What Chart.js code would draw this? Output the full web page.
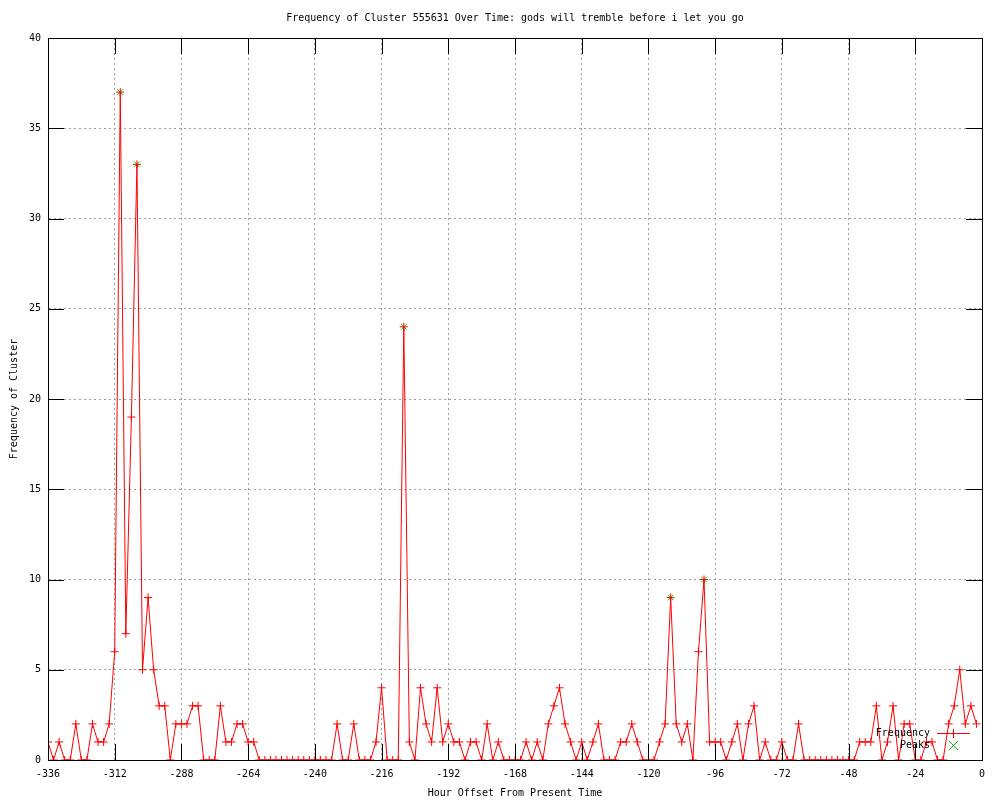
<!DOCTYPE html>
<html>
<head>
<meta charset="utf-8">
<title>Frequency of Cluster 555631</title>
<script src="https://cdn.jsdelivr.net/npm/chart.js@4/dist/chart.umd.min.js"></script>
<style>
  html, body { margin: 0; padding: 0; background: #fff; }
  canvas { display: block; }
</style>
</head>
<body>
<canvas id="clusterChart" width="1000" height="800"></canvas>
<script>
// ==================== DATA ====================
const chartTitle = 'Frequency of Cluster 555631 Over Time: gods will tremble before i let you go';
const xTitle = 'Hour Offset From Present Time';
const yTitle = 'Frequency of Cluster';

// one count every 2 hours, starting at -336
const startHour = -336;
const hourStep = 2;
const frequency = [
  1, 0, 1, 0, 0, 2, 0, 0, 2, 1, 1, 2, 6, 37, 7, 19, 33, 5, 9, 5,
  3, 3, 0, 2, 2, 2, 3, 3, 0, 0, 0, 3, 1, 1, 2, 2, 1, 1, 0, 0,
  0, 0, 0, 0, 0, 0, 0, 0, 0, 0, 0, 0, 2, 0, 0, 2, 0, 0, 0, 1,
  4, 0, 0, 0, 24, 1, 0, 4, 2, 1, 4, 1, 2, 1, 1, 0, 1, 1, 0, 2,
  0, 1, 0, 0, 0, 0, 1, 0, 1, 0, 2, 3, 4, 2, 1, 0, 1, 0, 1, 2,
  0, 0, 0, 1, 1, 2, 1, 0, 0, 0, 1, 2, 9, 2, 1, 2, 0, 6, 10, 1,
  1, 1, 0, 1, 2, 0, 2, 3, 0, 1, 0, 0, 1, 0, 0, 2, 0, 0, 0, 0,
  0, 0, 0, 0, 0, 0, 1, 1, 1, 3, 0, 1, 3, 0, 2, 2, 0, 0, 1, 1,
  0, 0, 2, 3, 5, 2, 3, 2
];

const peakHours = [-310, -304, -208, -112, -100];
const peakValues = [37, 33, 24, 9, 10];

const xTicks = { min: -336, max: 0, step: 24 };
const yTicks = { min: 0, max: 40, step: 5 };

// ==================== HELPERS ====================
const FONT_FAMILY = '"DejaVu Sans Mono", "Liberation Mono", monospace';
const FONT = '10px ' + FONT_FAMILY;
const FREQ_COLOR = '#ff0000';
const PEAK_COLOR = '#00c000';

const freqPoints = frequency.map((v, i) => ({ x: startHour + i * hourStep, y: v }));
const peakPoints = peakHours.map((h, i) => ({ x: h, y: peakValues[i] }));

// frame, inward ticks, titles and legend (gnuplot style)
const gnuplotFrame = {
  id: 'gnuplotFrame',
  afterDraw(chart) {
    const { ctx, chartArea: a, scales: { x, y } } = chart;
    const midX = (a.left + a.right) / 2;
    const midY = (a.top + a.bottom) / 2;
    ctx.save();
    ctx.setLineDash([]);
    ctx.globalAlpha = 1;

    // ticks pointing into the plot on all four sides
    ctx.strokeStyle = '#000';
    ctx.lineWidth = 1;
    ctx.beginPath();
    x.ticks.forEach(t => {
      const px = Math.round(x.getPixelForValue(t.value)) + 0.5;
      ctx.moveTo(px, a.bottom); ctx.lineTo(px, a.bottom - 16);
      ctx.moveTo(px, a.top); ctx.lineTo(px, a.top + 16);
    });
    y.ticks.forEach(t => {
      const py = Math.round(y.getPixelForValue(t.value)) + 0.5;
      ctx.moveTo(a.left, py); ctx.lineTo(a.left + 16, py);
      ctx.moveTo(a.right, py); ctx.lineTo(a.right - 16, py);
    });
    ctx.stroke();
    ctx.strokeRect(Math.round(a.left) + 0.5, Math.round(a.top) + 0.5,
      Math.round(a.right - a.left), Math.round(a.bottom - a.top));

    // titles
    ctx.fillStyle = '#000';
    ctx.font = FONT;
    ctx.textAlign = 'center';
    ctx.textBaseline = 'middle';
    ctx.fillText(chartTitle, midX, 18);
    ctx.fillText(xTitle, midX, 793);
    ctx.save();
    ctx.translate(14, midY);
    ctx.rotate(-Math.PI / 2);
    ctx.fillText(yTitle, 0, 0);
    ctx.restore();

    // legend, bottom right inside the plot
    const textRight = a.right - 52;
    const sx = Math.round(a.right - 29);
    let rowY = Math.round(a.bottom - 27);
    ctx.textAlign = 'right';
    ctx.fillStyle = '#000';
    ctx.fillText('Frequency', textRight, rowY);
    ctx.fillText('Peaks', textRight, rowY + 12);

    // frequency sample: red line with a plus
    ctx.fillStyle = FREQ_COLOR;
    ctx.fillRect(sx - 16, rowY, 33, 1);
    ctx.fillRect(sx, rowY - 4, 1, 9);

    // peaks sample: green x
    rowY += 12;
    ctx.fillStyle = PEAK_COLOR;
    for (let k = -4; k <= 4; k++) {
      ctx.fillRect(sx + k, rowY + k, 1, 1);
      ctx.fillRect(sx + k, rowY - k, 1, 1);
    }

    ctx.restore();
  }
};

// ==================== CHART ====================
const ctx = document.getElementById('clusterChart');

new Chart(ctx, {
  type: 'line',
  data: {
    datasets: [
      {
        label: 'Frequency',
        data: freqPoints,
        borderColor: FREQ_COLOR,
        backgroundColor: FREQ_COLOR,
        borderWidth: 1,
        tension: 0,
        pointStyle: 'cross',
        pointRadius: 4,
        pointBorderWidth: 1,
        pointBorderColor: FREQ_COLOR
      },
      {
        label: 'Peaks',
        data: peakPoints,
        showLine: false,
        borderColor: PEAK_COLOR,
        backgroundColor: PEAK_COLOR,
        pointStyle: 'crossRot',
        pointRadius: 4,
        pointBorderWidth: 1,
        pointBorderColor: PEAK_COLOR
      }
    ]
  },
  options: {
    responsive: false,
    animation: false,
    devicePixelRatio: 1,
    layout: { padding: { top: 38, right: 18, left: 0, bottom: 0 } },
    plugins: {
      legend: { display: false },
      title: { display: false },
      tooltip: { enabled: false }
    },
    scales: {
      x: {
        type: 'linear',
        min: xTicks.min,
        max: xTicks.max,
        afterFit: scale => { scale.height = 40; },
        grid: { color: '#a0a0a0', lineWidth: 1, drawTicks: false },
        border: { display: true, color: '#000', dash: [2, 3] },
        ticks: {
          stepSize: xTicks.step,
          color: '#000',
          padding: 8,
          maxRotation: 0,
          autoSkip: false,
          font: { family: FONT_FAMILY, size: 10 }
        }
      },
      y: {
        min: yTicks.min,
        max: yTicks.max,
        afterFit: scale => { scale.width = 48; },
        grid: { color: '#a0a0a0', lineWidth: 1, drawTicks: false },
        border: { display: true, color: '#000', dash: [2, 3] },
        ticks: {
          stepSize: yTicks.step,
          color: '#000',
          padding: 7,
          font: { family: FONT_FAMILY, size: 10 }
        }
      }
    }
  },
  plugins: [gnuplotFrame]
});
</script>
</body>
</html>
